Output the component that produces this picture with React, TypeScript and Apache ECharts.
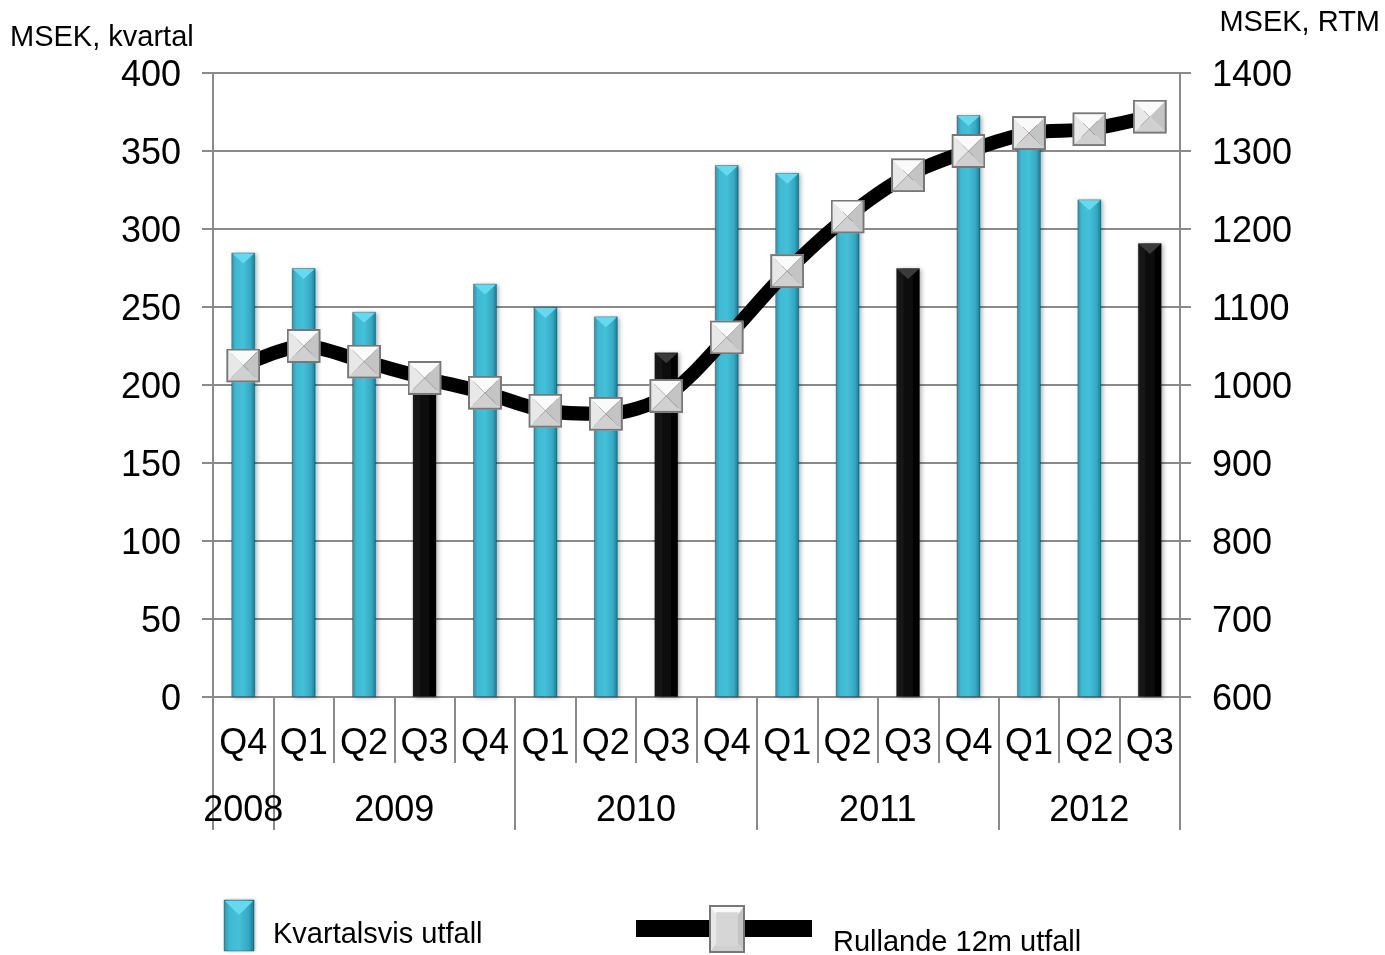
import React, { useEffect, useRef } from 'react';
import * as echarts from 'echarts';

const quarters = ['Q4', 'Q1', 'Q2', 'Q3', 'Q4', 'Q1', 'Q2', 'Q3', 'Q4', 'Q1', 'Q2', 'Q3', 'Q4', 'Q1', 'Q2', 'Q3'];
const years = ['2008', '2009', '2010', '2011', '2012'];
const yearQuarterCounts = [1, 4, 4, 4, 3];
const quarterly = [285, 275, 247, 205, 265, 250, 244, 221, 341, 336, 306, 275, 373, 361, 319, 291];
const rolling = [1025, 1050, 1030, 1009, 990, 967, 963, 986, 1061, 1146, 1216, 1269, 1300, 1323, 1328, 1344];
const leftAxis = { min: 0, max: 400, interval: 50 };
const rightAxis = { min: 600, max: 1400, interval: 100 };
const leftName = 'MSEK, kvartal';
const rightName = 'MSEK, RTM';
const legendBar = 'Kvartalsvis utfall';
const legendLine = 'Rullande 12m utfall';

const FONT = "'Liberation Sans', Arial, Helvetica, sans-serif";

const bevelSvg = (w: number, h: number) => {
  const cx = w / 2;
  const cy = h / 2;
  const inset = Math.min(w, h) * 0.2;
  const tall = h > w * 1.2;
  const svg = `<svg xmlns="http://www.w3.org/2000/svg" width="${w}" height="${h}" viewBox="0 0 ${w} ${h}">
<polygon points="0,0 ${w},0 ${cx},${cy}" fill="#fafafa"/>
<polygon points="0,0 ${cx},${cy} 0,${h}" fill="#e8e8e8"/>
<polygon points="${w},0 ${w},${h} ${cx},${cy}" fill="#c4c4c4"/>
<polygon points="0,${h} ${w},${h} ${cx},${cy}" fill="#d0d0d0"/>
${tall ? `<rect x="${inset}" y="${inset}" width="${w - 2 * inset}" height="${h - 2 * inset}" fill="#d6d6d6"/>` : ''}
<rect x="1" y="1" width="${w - 2}" height="${h - 2}" fill="none" stroke="#777777" stroke-width="2"/>
</svg>`;
  return 'data:image/svg+xml;charset=utf-8,' + encodeURIComponent(svg);
};

const cyanGrad = () =>
  new echarts.graphic.LinearGradient(0, 0, 1, 0, [
    { offset: 0, color: '#2797b0' },
    { offset: 0.18, color: '#3fbad3' },
    { offset: 0.5, color: '#45bfd8' },
    { offset: 0.82, color: '#36a8c1' },
    { offset: 1, color: '#1d7b91' },
  ]);
const blackGrad = () =>
  new echarts.graphic.LinearGradient(0, 0, 1, 0, [
    { offset: 0, color: '#1c1c1c' },
    { offset: 0.5, color: '#0b0b0b' },
    { offset: 1, color: '#000000' },
  ]);

export default function App() {
  const ref = useRef<HTMLDivElement>(null);

  useEffect(() => {
    const chart = echarts.init(ref.current!, null, { renderer: 'svg' });

    const boundaries: number[] = [0];
    const centers: number[] = [];
    yearQuarterCounts.forEach((c) => {
      const start = boundaries[boundaries.length - 1];
      centers.push(start + c / 2);
      boundaries.push(start + c);
    });

    const isQ3 = (i: number) => quarters[i] === 'Q3';

    const barData = quarterly.map((v, i) => ({
      value: v,
      itemStyle: { color: isQ3(i) ? blackGrad() : cyanGrad() },
    }));
    const capData = quarterly.map((v, i) => ({
      value: v,
      itemStyle: { color: isQ3(i) ? '#3a3a3a' : '#66d9ef' },
    }));

    const axisGray = '#8a8a8a';

    const option: any = {
      animation: false,
      grid: { left: 213, right: 205, top: 73, bottom: 258, containLabel: false },
      xAxis: [
        {
          type: 'category',
          data: quarters,
          boundaryGap: true,
          axisLine: { show: true, lineStyle: { color: axisGray, width: 2 } },
          axisTick: { show: true, interval: 0, length: 66, lineStyle: { color: axisGray, width: 2 } },
          axisLabel: { interval: 0, fontSize: 36, color: '#000', margin: 26, fontFamily: FONT },
          splitLine: { show: false },
        },
        {
          type: 'value',
          min: 0,
          max: quarters.length,
          position: 'bottom',
          axisLine: { show: false },
          splitLine: { show: false },
          axisTick: { show: true, customValues: boundaries, length: 133, lineStyle: { color: axisGray, width: 2 } },
          axisLabel: {
            show: true,
            customValues: centers,
            fontSize: 36,
            color: '#000',
            margin: 93,
            fontFamily: FONT,
            formatter: (v: number) => {
              const idx = centers.findIndex((c) => Math.abs(c - v) < 1e-6);
              return idx >= 0 ? years[idx] : '';
            },
          },
        },
      ],
      yAxis: [
        {
          type: 'value',
          min: leftAxis.min,
          max: leftAxis.max,
          interval: leftAxis.interval,
          position: 'left',
          axisLine: { show: true, lineStyle: { color: axisGray, width: 2 } },
          axisTick: { show: true, length: 11, lineStyle: { color: axisGray, width: 2 } },
          axisLabel: { fontSize: 36, color: '#000', margin: 32, fontFamily: FONT, formatter: (v: number) => String(v) },
          splitLine: { show: true, lineStyle: { color: axisGray, width: 2 } },
        },
        {
          type: 'value',
          min: rightAxis.min,
          max: rightAxis.max,
          interval: rightAxis.interval,
          position: 'right',
          axisLine: { show: true, lineStyle: { color: axisGray, width: 2 } },
          axisTick: { show: true, length: 11, lineStyle: { color: axisGray, width: 2 } },
          axisLabel: { fontSize: 36, color: '#000', margin: 32, fontFamily: FONT, formatter: (v: number) => String(v) },
          splitLine: { show: false },
        },
      ],
      series: [
        {
          type: 'bar',
          name: legendBar,
          data: barData,
          barWidth: 24,
          z: 2,
          itemStyle: {
            borderColor: 'rgba(0,0,0,0.25)',
            borderWidth: 1,
            shadowBlur: 4,
            shadowOffsetX: 2,
            shadowOffsetY: 1,
            shadowColor: 'rgba(0,0,0,0.3)',
          },
        },
        {
          type: 'pictorialBar',
          data: capData,
          symbol: 'path://M0,0 L24,0 L12,12 Z',
          symbolSize: [22, 10],
          symbolPosition: 'end',
          symbolOffset: [0, 1],
          barWidth: 24,
          z: 3,
          silent: true,
        },
        {
          type: 'line',
          name: legendLine,
          yAxisIndex: 1,
          data: rolling,
          smooth: 0.3,
          lineStyle: { color: '#000', width: 14 },
          symbol: 'image://' + bevelSvg(34, 34),
          symbolSize: 34,
          z: 5,
        },
      ],
      graphic: [
        {
          type: 'text',
          left: 10,
          top: 21,
          style: { text: leftName, fontSize: 29, fill: '#000', fontFamily: FONT },
        },
        {
          type: 'text',
          right: 5,
          top: 6,
          style: { text: rightName, fontSize: 29, fill: '#000', fontFamily: FONT },
        },
        {
          type: 'rect',
          shape: { x: 224, y: 900, width: 30, height: 51 },
          style: { fill: cyanGrad(), stroke: 'rgba(0,0,0,0.25)', lineWidth: 1, shadowBlur: 3, shadowOffsetX: 1, shadowColor: 'rgba(0,0,0,0.3)' },
        },
        {
          type: 'polygon',
          shape: { points: [[225, 901], [253, 901], [239, 915]] },
          style: { fill: '#66d9ef' },
        },
        {
          type: 'text',
          left: 273,
          top: 918,
          style: { text: legendBar, fontSize: 29, fill: '#000', fontFamily: FONT },
        },
        {
          type: 'rect',
          shape: { x: 636, y: 920, width: 176, height: 17 },
          style: { fill: '#000' },
        },
        {
          type: 'image',
          style: { image: bevelSvg(36, 48), x: 709, y: 905, width: 36, height: 48 },
        },
        {
          type: 'text',
          left: 833,
          top: 926,
          style: { text: legendLine, fontSize: 29, fill: '#000', fontFamily: FONT },
        },
      ],
    };

    chart.setOption(option);
    return () => chart.dispose();
  }, []);

  return <div ref={ref} style={{ position: 'fixed', left: 0, top: 0, width: 1385, height: 955 }} />;
}
